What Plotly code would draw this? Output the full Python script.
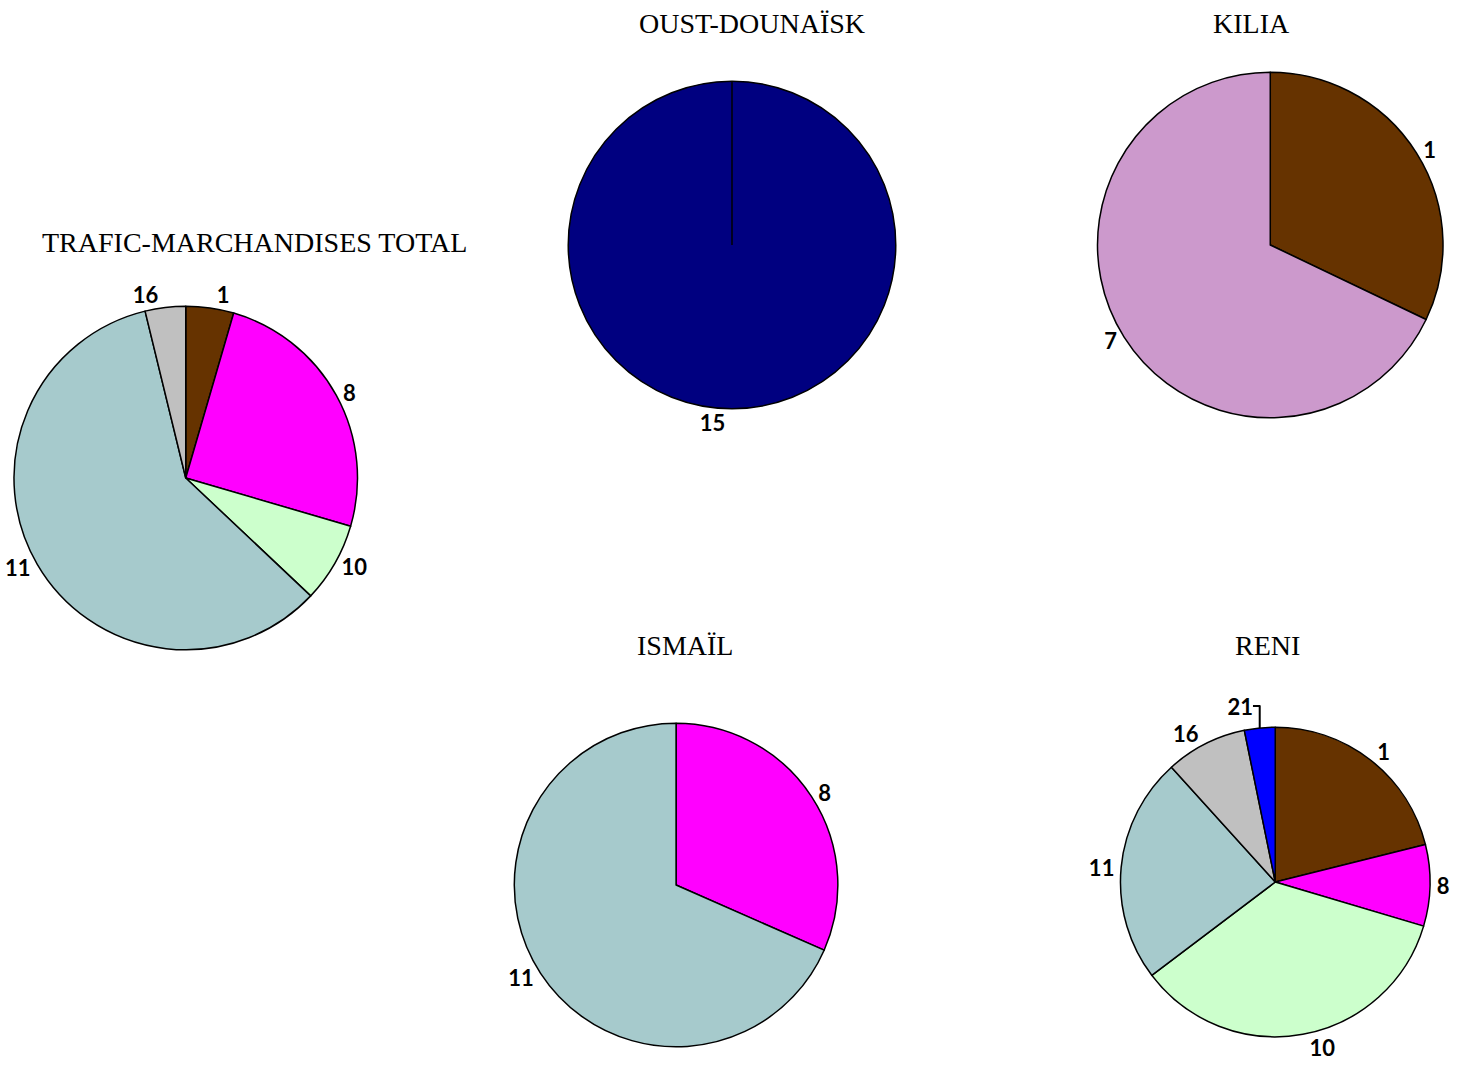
import plotly.graph_objects as go

# ---- data ----
titles = ["TRAFIC-MARCHANDISES TOTAL", "OUST-DOUNAÏSK", "KILIA", "ISMAÏL", "RENI"]

total_labels = ["1", "8", "10", "11", "16"]
total_values = [4.5, 25.0, 7.5, 59.1, 3.8]

oust_labels = ["15"]
oust_values = [100.0]

kilia_labels = ["1", "7"]
kilia_values = [32.1, 67.9]

ismail_labels = ["8", "11"]
ismail_values = [31.6, 68.4]

reni_labels = ["1", "8", "10", "11", "16", "21"]
reni_values = [21.1, 8.5, 35.1, 23.6, 8.5, 3.2]

category_colors = {
    "1": "#663300", "7": "#CC99CC", "8": "#FF00FF", "10": "#CCFFCC",
    "11": "#A6CACC", "15": "#000080", "16": "#C0C0C0", "21": "#0000FF",
}

# ---- layout (pixel geometry of the page) ----
W, H = 1459, 1067
pie_geom = [  # centre x, centre y, radius in px
    (184, 478, 172),
    (731, 245, 164),
    (1270, 245, 173),
    (675, 885, 162),
    (1275, 882, 155),
]
title_pos = [(253, 243), (751, 23), (1251, 23), (684, 645), (1267, 645)]

series = [
    (total_labels, total_values),
    (oust_labels, oust_values),
    (kilia_labels, kilia_values),
    (ismail_labels, ismail_values),
    (reni_labels, reni_values),
]

lab_font = dict(family="Lato", size=22, color="black", weight="bold")

fig = go.Figure()
for (labels, values), (cx, cy, r) in zip(series, pie_geom):
    fig.add_trace(go.Pie(
        labels=labels, values=values,
        sort=False, direction="clockwise", rotation=0,
        marker=dict(colors=[category_colors[l] for l in labels],
                    line=dict(color="black", width=1.5)),
        textinfo="label", textposition="outside",
        textfont=lab_font, outsidetextfont=lab_font,
        showlegend=False, hoverinfo="label+value",
        domain=dict(x=[(cx - r) / W, (cx + r) / W],
                    y=[1 - (cy + r) / H, 1 - (cy - r) / H]),
    ))

# radial edge of a single full slice (start of the wedge at 12 o'clock)
for (labels, values), (cx, cy, r) in zip(series, pie_geom):
    if len(values) == 1:
        fig.add_shape(type="line", xref="paper", yref="paper",
                      x0=cx / W, x1=cx / W, y0=1 - cy / H, y1=1 - (cy - r) / H,
                      line=dict(color="black", width=1.5))

for t, (tx, ty) in zip(titles, title_pos):
    fig.add_annotation(text=t, x=tx / W, y=1 - ty / H,
                       xref="paper", yref="paper",
                       xanchor="center", yanchor="middle", showarrow=False,
                       font=dict(family="Liberation Serif", size=28, color="black"))

fig.update_layout(width=W, height=H, margin=dict(l=0, r=0, t=0, b=0),
                  paper_bgcolor="white", plot_bgcolor="white")
fig.write_html("out.html", config={"displayModeBar": False},
               post_script="document.body.style.margin='0';document.body.style.overflow='hidden';")
